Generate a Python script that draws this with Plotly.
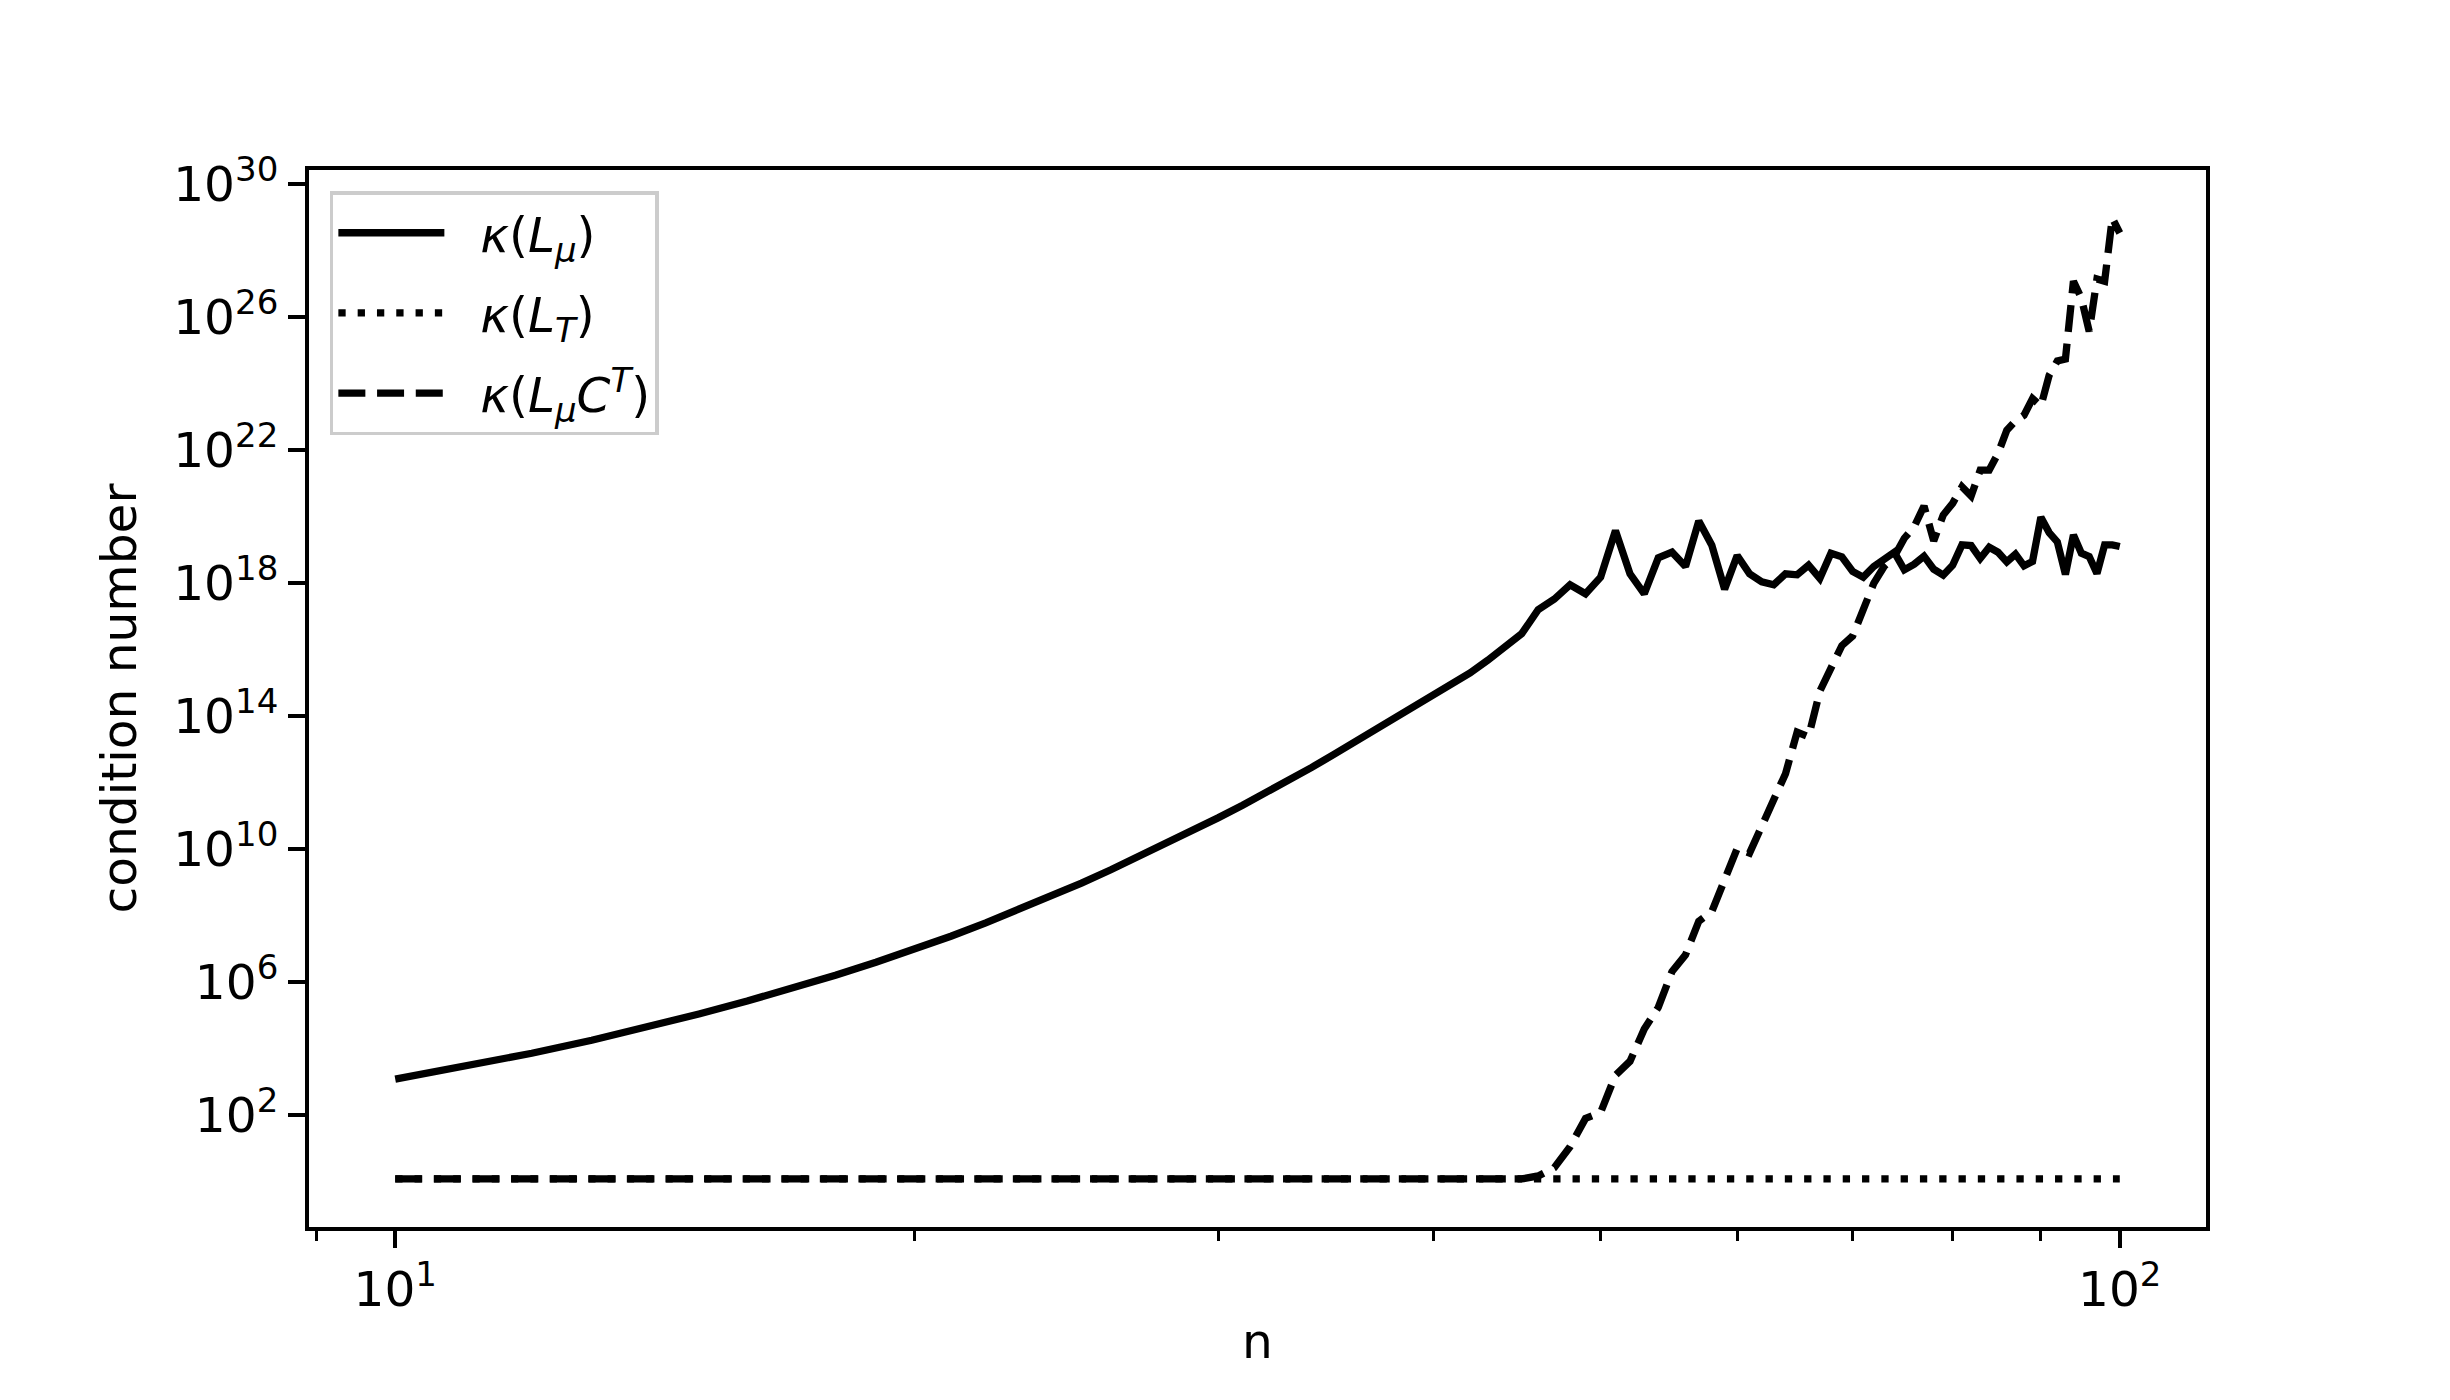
import plotly.graph_objects as go

# problem size
n = list(range(10, 101))

# log10 of the condition numbers (n = 10 .. 100)
log_kappa_Lmu = [
    3.08, 3.47, 3.86, 4.25, 4.65, 5.04, 5.43, 5.82, 6.21, 6.60,
    6.98, 7.38, 7.78, 8.18, 8.58, 8.98, 9.38, 9.78, 10.18, 10.56,
    10.94, 11.32, 11.70, 12.08, 12.46, 12.84, 13.22, 13.60, 13.96, 14.30,
    14.62, 14.95, 15.30, 15.68, 16.08, 16.48, 17.20, 17.52, 17.95, 17.68,
    18.18, 19.58, 18.28, 17.68, 18.76, 18.93, 18.50, 19.87, 19.14, 17.82,
    18.83, 18.28, 18.04, 17.95, 18.28, 18.25, 18.54, 18.14, 18.90, 18.79,
    18.35, 18.18, 18.50, 18.71, 18.93, 18.40, 18.57, 18.81, 18.42, 18.24,
    18.54, 19.15, 19.13, 18.74, 19.08, 18.93, 18.64, 18.87, 18.52, 18.65,
    19.98, 19.52, 19.24, 18.26, 19.45, 18.90, 18.80, 18.29, 19.15, 19.15, 19.10,
]

log_kappa_LT = [
    0.08, 0.08, 0.08, 0.08, 0.08, 0.08, 0.08, 0.08, 0.08, 0.08,
    0.08, 0.08, 0.08, 0.08, 0.08, 0.08, 0.08, 0.08, 0.08, 0.08,
    0.08, 0.08, 0.08, 0.08, 0.08, 0.08, 0.08, 0.08, 0.08, 0.08,
    0.08, 0.08, 0.08, 0.08, 0.08, 0.08, 0.08, 0.08, 0.08, 0.08,
    0.08, 0.08, 0.08, 0.08, 0.08, 0.08, 0.08, 0.08, 0.08, 0.08,
    0.08, 0.08, 0.08, 0.08, 0.08, 0.08, 0.08, 0.08, 0.08, 0.08,
    0.08, 0.08, 0.08, 0.08, 0.08, 0.08, 0.08, 0.08, 0.08, 0.08,
    0.08, 0.08, 0.08, 0.08, 0.08, 0.08, 0.08, 0.08, 0.08, 0.08,
    0.08, 0.08, 0.08, 0.08, 0.08, 0.08, 0.08, 0.08, 0.08, 0.08, 0.08,
]

log_kappa_LmuCT = [
    0.08, 0.08, 0.08, 0.08, 0.08, 0.08, 0.08, 0.08, 0.08, 0.08,
    0.08, 0.08, 0.08, 0.08, 0.08, 0.08, 0.08, 0.08, 0.08, 0.08,
    0.08, 0.08, 0.08, 0.08, 0.08, 0.08, 0.08, 0.08, 0.08, 0.08,
    0.08, 0.08, 0.08, 0.08, 0.08, 0.08, 0.17, 0.42, 1.05, 1.90,
    2.08, 3.20, 3.62, 4.59, 5.24, 6.32, 6.82, 7.83, 8.12, 9.06,
    10.02, 9.88, 10.71, 11.51, 12.27, 13.52, 13.38, 14.75, 15.40, 16.12,
    16.41, 17.27, 17.99, 18.50, 18.80, 19.35, 19.70, 20.32, 19.27, 20.05,
    20.40, 20.90, 20.62, 21.40, 21.40, 21.90, 22.60, 22.88, 23.05, 23.55,
    23.32, 24.25, 24.68, 24.74, 27.08, 26.57, 25.57, 27.15, 27.08, 28.98, 28.53,
]

x_tickvals = [10, 100]
x_ticktext = ["10<sup>1</sup>", "10<sup>2</sup>"]
x_minor = [9, 20, 30, 40, 50, 60, 70, 80, 90]
y_exponents = [2, 6, 10, 14, 18, 22, 26, 30]

FONT = "DejaVu Sans"
FS = 48.6
LW = 7.3
GAP = "\u00a0\u00a0"  # space between legend line sample and label

series = [
    ("<i>κ</i>(<i>L</i><sub><i>μ</i></sub>)", log_kappa_Lmu, "solid"),
    ("<i>κ</i>(<i>L</i><sub><i>T</i></sub>)", log_kappa_LT, "7.3px,12px"),
    ("<i>κ</i>(<i>L</i><sub><i>μ</i></sub><i>C</i><sup><i>T</i></sup>)", log_kappa_LmuCT, "27px,11.7px"),
]

fig = go.Figure()
for i, (name, logs, dash) in enumerate(series):
    fig.add_trace(go.Scatter(
        x=n, y=[10.0 ** v for v in logs], mode="lines", name=GAP + name,
        legendgroup="g%d" % i,
        line=dict(color="black", width=LW, dash=dash),
    ))

# matplotlib-like autoscale (5% margins in log space)
all_logs = log_kappa_Lmu + log_kappa_LT + log_kappa_LmuCT
lo, hi = min(all_logs), max(all_logs)
pad = 0.05 * (hi - lo)

fig.update_layout(
    width=2450, height=1400,
    margin=dict(l=301, r=252, t=162, b=181),
    paper_bgcolor="white", plot_bgcolor="white",
    font=dict(family=FONT, size=FS, color="black"),
    showlegend=True,
    legend=dict(
        x=0.011, y=0.98, xanchor="left", yanchor="top",
        bgcolor="rgba(255,255,255,0.8)", bordercolor="#cccccc", borderwidth=3.5,
        font=dict(family=FONT, size=FS), itemwidth=106, tracegroupgap=14,
    ),
    xaxis=dict(
        type="log", range=[0.95, 2.05],
        tickmode="array", tickvals=x_tickvals, ticktext=x_ticktext,
        ticks="outside", ticklen=17, tickwidth=3.9, tickcolor="black",
        showline=True, linewidth=3.9, linecolor="black", mirror=True,
        showgrid=False, zeroline=False,
        minor=dict(tickmode="array", tickvals=x_minor, ticks="outside",
                   ticklen=9.7, tickwidth=2.9, tickcolor="black", showgrid=False),
        title=dict(text="n", standoff=9, font=dict(size=FS)),
        automargin=False,
    ),
    yaxis=dict(
        type="log", range=[lo - pad, hi + pad],
        tickmode="array",
        tickvals=[10.0 ** e for e in y_exponents],
        ticktext=["10<sup>%d</sup>" % e for e in y_exponents],
        ticks="outside", ticklen=17, tickwidth=3.9, tickcolor="black",
        showline=True, linewidth=3.9, linecolor="black", mirror=True,
        showgrid=False, zeroline=False,
        title=dict(text="condition number", standoff=22, font=dict(size=FS)),
        automargin=False,
    ),
)

fig.write_html("out.html")
